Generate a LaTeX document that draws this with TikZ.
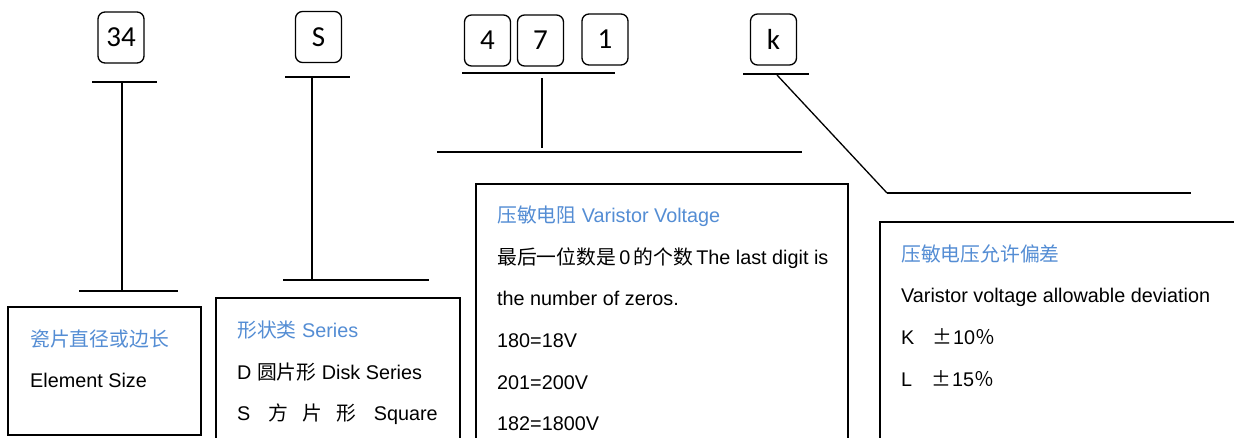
\documentclass[tikz,border=0pt]{standalone}
\usepackage{fontspec}
\setmainfont{Liberation Sans}
\newfontfamily\cjk{Noto Sans CJK SC}
\newfontfamily\calfont{Carlito}
\definecolor{hblue}{HTML}{548DD4}
\begin{document}
\begin{tikzpicture}[x=1pt,y=-1pt,
  digitbox/.style={draw, rounded corners=7pt, line width=1.3pt, minimum width=46pt, minimum height=51pt, inner sep=0pt, font=\calfont\fontsize{29}{29}\selectfont},
  thinbar/.style={line width=1.3pt},
  thickbar/.style={line width=2.8pt},
  frameline/.style={line width=2pt},
  txt/.style={anchor=base west, inner sep=0pt, font=\fontsize{19.8}{20}\selectfont},
  head/.style={txt, text=hblue}]
\useasboundingbox (0,0) rectangle (1234,437);
\fill[white] (0,0) rectangle (1234,437);

% code boxes
\node[digitbox] (d34) at (121,37.5) {34};
\node[digitbox] (dS) at (318.5,37) {S};
\node[digitbox] (d4) at (487.5,40.5) {4};
\node[digitbox] (d7) at (540.5,40.5) {7};
\node[digitbox] (d1) at (605,39.5) {1};
\node[digitbox] (dk) at (773.5,39.5) {k};

% bars and leaders
\coordinate (a1) at (92,82);  \coordinate (a2) at (157,82);
\coordinate (a3) at (122,83); \coordinate (a4) at (122,290);
\coordinate (a5) at (79,291); \coordinate (a6) at (178,291);
\draw[thinbar] (a1) -- (a2);
\draw[thinbar] (a3) -- (a4);
\draw[thickbar] (a5) -- (a6);

\coordinate (b1) at (285,77);  \coordinate (b2) at (350,77);
\coordinate (b3) at (312,77);  \coordinate (b4) at (312,280);
\coordinate (b5) at (283,280); \coordinate (b6) at (429,280);
\draw[thinbar] (b1) -- (b2);
\draw[thinbar] (b3) -- (b4);
\draw[thickbar] (b5) -- (b6);

\coordinate (c1) at (462,73);  \coordinate (c2) at (615,73);
\coordinate (c3) at (542,78);  \coordinate (c4) at (542,148);
\coordinate (c5) at (437,152); \coordinate (c6) at (802,152);
\draw[thinbar] (c1) -- (c2);
\draw[thinbar] (c3) -- (c4);
\draw[thickbar] (c5) -- (c6);

\coordinate (k1) at (743,74);  \coordinate (k2) at (809,74);
\coordinate (k3) at (777,75);  \coordinate (k4) at (887,193);
\coordinate (k5) at (1191,193);
\draw[thinbar] (k1) -- (k2);
\draw[thinbar] (k3) -- (k4);
\draw[thickbar] (k4) -- (k5);

% frames
\draw[frameline] (8,307) rectangle (201,435);
\draw[frameline] (216,445) -- (216,298) -- (460,298) -- (460,445);
\draw[frameline] (476,445) -- (476,184) -- (848,184) -- (848,445);
\draw[frameline] (880,445) -- (880,222) -- (1245,222);

% box 1
\node[head] (t11) at (30,346) {\cjk 瓷片直径或边长};
\node[txt] (t12) at (30,387) {Element Size};

% box 2
\node[head] (t21) at (237,337) {{\cjk 形状类} Series};
\node[txt] (t22) at (237,379) {D {\cjk 圆片形} Disk Series};
\node[txt] (t23) at (237,420) {S\hspace{18pt}{\cjk 方}\hspace{14pt}{\cjk 片}\hspace{14pt}{\cjk 形}\hspace{18pt}Square};

% box 3
\node[head] (t31) at (497,222) {{\cjk 压敏电阻} Varistor Voltage};
\node[txt] (t32) at (497,264) {{\cjk 最后一位数是}\,0\,{\cjk 的个数}\,The last digit is};
\node[txt] (t33) at (497,305) {the number of zeros.};
\node[txt] (t34) at (497,347) {180=18V};
\node[txt] (t35) at (497,389) {201=200V};
\node[txt] (t36) at (497,430) {182=1800V};

% box 4
\node[head] (t41) at (901,261) {\cjk 压敏电压允许偏差};
\node[txt] (t42) at (901,302) {Varistor voltage allowable deviation};
\node[txt] (t43) at (901,344) {K\hspace{18pt}{\cjk ±}\hspace{1pt}10{\cjk ％}};
\node[txt] (t44) at (901,386) {L\hspace{19pt}{\cjk ±}\hspace{1pt}15{\cjk ％}};
\end{tikzpicture}
\end{document}
